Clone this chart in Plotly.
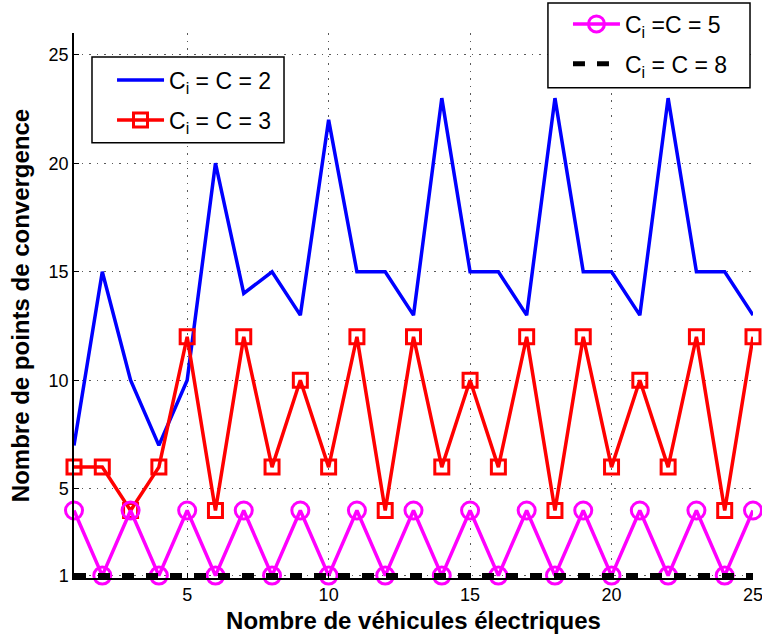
import plotly.graph_objects as go

x = list(range(1, 26))
c2 = [7, 15, 10, 7, 10, 20, 14, 15, 13, 22, 15, 15, 13, 23, 15, 15, 13, 23, 15, 15, 13, 23, 15, 15, 13]
c3 = [6, 6, 4, 6, 12, 4, 12, 6, 10, 6, 12, 4, 12, 6, 10, 6, 12, 4, 12, 6, 10, 6, 12, 4, 12]
c5 = [4, 1, 4, 1, 4, 1, 4, 1, 4, 1, 4, 1, 4, 1, 4, 1, 4, 1, 4, 1, 4, 1, 4, 1, 4]
c8 = [1] * 25
yticks = [1, 5, 10, 15, 20, 25]
xticks = [5, 10, 15, 20, 25]

font = "Liberation Sans, Arial, sans-serif"
fig = go.Figure()
fig.add_trace(go.Scatter(x=x, y=c2, mode="lines", name="C<sub>i</sub> = C = 2",
                         line=dict(color="#0000ff", width=3.5), legend="legend", legendgroup="a"))
fig.add_trace(go.Scatter(x=x, y=c3, mode="lines+markers", name="C<sub>i</sub> = C = 3",
                         line=dict(color="#ff0000", width=3.5), cliponaxis=False,
                         marker=dict(symbol="square-open", size=14, color="#ff0000", line=dict(width=3)),
                         legend="legend", legendgroup="b"))
fig.add_trace(go.Scatter(x=x, y=c5, mode="lines+markers", name="C<sub>i</sub> =C = 5",
                         line=dict(color="#ff00ff", width=3.5), cliponaxis=False,
                         marker=dict(symbol="circle-open", size=17, color="#ff00ff", line=dict(width=3)),
                         legend="legend2", legendgroup="c"))
fig.add_trace(go.Scatter(x=x, y=c8, mode="lines", name="C<sub>i</sub> = C = 8",
                         line=dict(color="#000000", width=5, dash="12px,12px"), legend="legend2",
                         legendgroup="d"))

axis_common = dict(showgrid=True, gridcolor="#5a5a5a", griddash="1.5px,6px", gridwidth=1.3,
                   showline=True, linecolor="black", linewidth=1.5, ticks="inside", ticklen=5,
                   tickcolor="black", tickfont=dict(family=font, size=18, color="black"),
                   zeroline=False, mirror=False, automargin=False, ticklabeloverflow="allow")
fig.update_xaxes(range=[1, 25], tickvals=xticks, **axis_common,
                 title=dict(text="<b>Nombre de véhicules électriques</b>", font=dict(family=font, size=24, color="black"), standoff=8))
fig.update_yaxes(range=[0.89, 26], tickvals=yticks, **axis_common,
                 title=dict(text="<b>Nombre de points de convergence</b>", font=dict(family=font, size=24, color="black"), standoff=12))

# legend frames
box = dict(type="rect", xref="paper", yref="paper", line=dict(color="black", width=1.5),
           fillcolor="white", layer="above")
fig.add_shape(x0=0.0265, x1=0.3093, y0=0.7985, y1=0.9560, **box)
fig.add_shape(x0=0.698, x1=0.9956, y0=0.8995, y1=1.0550, **box)

fig.update_layout(
    width=762, height=639,
    margin=dict(l=74, r=9, t=33, b=61, autoexpand=False),
    plot_bgcolor="white", paper_bgcolor="white",
    font=dict(family=font, color="black"),
    legend=dict(x=0.056, y=0.953, xanchor="left", yanchor="top", bgcolor="rgba(0,0,0,0)",
                borderwidth=0, font=dict(family=font, size=23),
                tracegroupgap=7, itemwidth=47),
    legend2=dict(x=0.7275, y=1.056, xanchor="left", yanchor="top",
                 bgcolor="rgba(0,0,0,0)", borderwidth=0, font=dict(family=font, size=23),
                 tracegroupgap=7, itemwidth=47),
)
fig.write_html("out.html", config={"displayModeBar": False},
               post_script="document.body.style.margin='0';document.body.style.padding='0';")
